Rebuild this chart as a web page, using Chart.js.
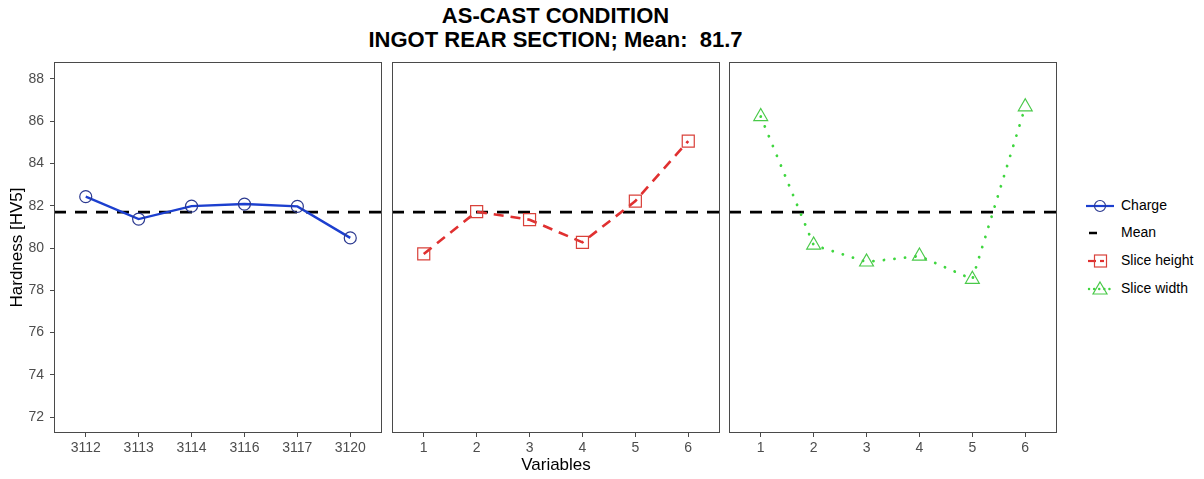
<!DOCTYPE html>
<html><head><meta charset="utf-8">
<script src="https://cdn.jsdelivr.net/npm/chart.js@4/dist/chart.umd.min.js"></script>
<style>
body{margin:0;background:#fff;width:1204px;height:479px;overflow:hidden;position:relative;font-family:"Liberation Sans",Arial,sans-serif}
canvas{position:absolute;top:55px}
#title{position:absolute;left:0;width:1111px;top:4px;text-align:center;font-weight:bold;font-size:22px;line-height:24px;color:#000}
#legend{position:absolute;left:1084px;top:192px;font-size:14px;color:#000}
.item{position:absolute;left:0;height:28px;width:120px}
.item svg{position:absolute;left:0;top:0}
.item span{position:absolute;left:37px;top:5px;white-space:nowrap}
</style></head><body>
<div id="title">AS-CAST CONDITION<br>INGOT REAR SECTION; Mean:&nbsp; 81.7</div>
<canvas id="c1" width="386" height="424" style="left:0px"></canvas>
<canvas id="c2" width="340" height="424" style="left:386px"></canvas>
<canvas id="c3" width="338" height="424" style="left:726px"></canvas>
<div id="legend">
 <div class="item" style="top:0px"><svg width="32" height="28"><line x1="2" y1="14" x2="30" y2="14" stroke="#1c3fcf" stroke-width="2.2"/><circle cx="16" cy="14" r="5.5" fill="none" stroke="#2b3990" stroke-width="1.2"/></svg><span>Charge</span></div>
 <div class="item" style="top:27px"><svg width="32" height="28"><line x1="5" y1="14" x2="13" y2="14" stroke="#000" stroke-width="2.5"/></svg><span>Mean</span></div>
 <div class="item" style="top:55px"><svg width="32" height="28"><line x1="4" y1="14" x2="12" y2="14" stroke="#e03030" stroke-width="2.2"/><line x1="16" y1="14" x2="20" y2="14" stroke="#e03030" stroke-width="2.2"/><rect x="10.5" y="8" width="12" height="12" fill="none" stroke="#d9413a" stroke-width="1.2"/></svg><span>Slice height</span></div>
 <div class="item" style="top:83px"><svg width="32" height="28"><line x1="5" y1="14" x2="28" y2="14" stroke="#3fd63f" stroke-width="2.4" stroke-dasharray="0.1 5" stroke-linecap="round"/><polygon points="16,7 23,19 9,19" fill="none" stroke="#49c949" stroke-width="1.2"/></svg><span>Slice width</span></div>
</div>
<script>
const meanValue = 81.7;
const chargeLabels = ['3112','3113','3114','3116','3117','3120'];
const variableLabels = ['1','2','3','4','5','6'];
const chargeValues = [82.43, 81.37, 81.98, 82.08, 81.97, 80.48];
const sliceHeightValues = [79.72, 81.72, 81.34, 80.27, 82.22, 85.06];
const sliceWidthValues = [86.22, 80.14, 79.34, 79.62, 78.52, 86.68];
const yTicks = [72, 74, 76, 78, 80, 82, 84, 86, 88];
const yMin = 71.25, yMax = 88.8;
const xMin = 0.4, xMax = 6.6;

const frame = {
  id: 'frame',
  afterDraw(chart) {
    const a = chart.chartArea, ctx = chart.ctx;
    ctx.save();
    ctx.strokeStyle = '#4a4a4a';
    ctx.lineWidth = 1;
    ctx.strokeRect(Math.round(a.left) + 0.5, Math.round(a.top) + 0.5, Math.round(a.right - a.left) - 1, Math.round(a.bottom - a.top) - 1);
    ctx.restore();
  }
};

function makePanel(id, labels, values, series, cfg) {
  const meanDs = {
    data: [{x: xMin, y: meanValue}, {x: xMax, y: meanValue}],
    borderColor: '#000', borderWidth: 2.6, borderDash: [12, 9],
    pointRadius: 0, order: 2
  };
  const ds = Object.assign({
    data: values.map((v, i) => ({x: i + 1, y: v})),
    pointBackgroundColor: 'rgba(0,0,0,0)', order: 1, tension: 0
  }, series);
  return new Chart(document.getElementById(id), {
    type: 'line',
    data: {datasets: [meanDs, ds]},
    options: {
      responsive: false, animation: false,
      layout: {autoPadding: false, padding: {top: 7, left: cfg.padLeft, right: cfg.padRight, bottom: 0}},
      plugins: {legend: {display: false}, tooltip: {enabled: false}},
      scales: {
        x: {
          type: 'linear', min: xMin, max: xMax,
          afterBuildTicks: s => { s.ticks = labels.map((l, i) => ({value: i + 1})); },
          afterFit: s => { s.height = 46; s.paddingLeft = 0; s.paddingRight = 0; },
          ticks: {callback: v => labels[v - 1], color: '#4d4d4d', font: {family: 'Liberation Sans', size: 14}, padding: 3, autoSkip: false, maxRotation: 0},
          grid: {drawOnChartArea: false, color: '#4a4a4a', tickLength: 4, lineWidth: 1},
          border: {display: false},
          title: {display: !!cfg.xTitle, text: cfg.xTitle || '', color: '#000', font: {family: 'Liberation Sans', size: 17, lineHeight: 1.2}, padding: {top: 0, bottom: 3}}
        },
        y: {
          display: cfg.showY, min: yMin, max: yMax,
          afterBuildTicks: s => { s.ticks = yTicks.map(v => ({value: v})); },
          afterFit: s => { if (cfg.showY) s.width = 54; else s.width = 0; s.paddingTop = 0; s.paddingBottom = 0; },
          ticks: {color: '#4d4d4d', font: {family: 'Liberation Sans', size: 14}, padding: 6},
          grid: {drawOnChartArea: false, color: '#4a4a4a', tickLength: 4, lineWidth: 1},
          border: {display: false},
          title: {display: cfg.showY, text: 'Hardness [HV5]', color: '#000', font: {family: 'Liberation Sans', size: 17, lineHeight: 1.2}, padding: {top: 7, bottom: 0}}
        }
      }
    },
    plugins: [frame]
  });
}

makePanel('c1', chargeLabels, chargeValues, {
  borderColor: '#1c3fcf', borderWidth: 2.4,
  pointStyle: 'circle', pointRadius: 6, pointBorderColor: '#2b3990', pointBorderWidth: 1.2
}, {padLeft: 0, padRight: 4, showY: true});

makePanel('c2', variableLabels, sliceHeightValues, {
  borderColor: '#e03030', borderWidth: 2.6, borderDash: [10, 7],
  pointStyle: 'rect', pointRadius: 8.5, pointBorderColor: '#d9413a', pointBorderWidth: 1.2
}, {padLeft: 6, padRight: 6, showY: false, xTitle: 'Variables'});

makePanel('c3', variableLabels, sliceWidthValues, {
  borderColor: '#3fd63f', borderWidth: 2.8, borderDash: [0.1, 10.5], borderCapStyle: 'round',
  pointStyle: 'triangle', pointRadius: 8, pointBorderColor: '#49c949', pointBorderWidth: 1.2
}, {padLeft: 3, padRight: 7, showY: false});
</script>
</body></html>
